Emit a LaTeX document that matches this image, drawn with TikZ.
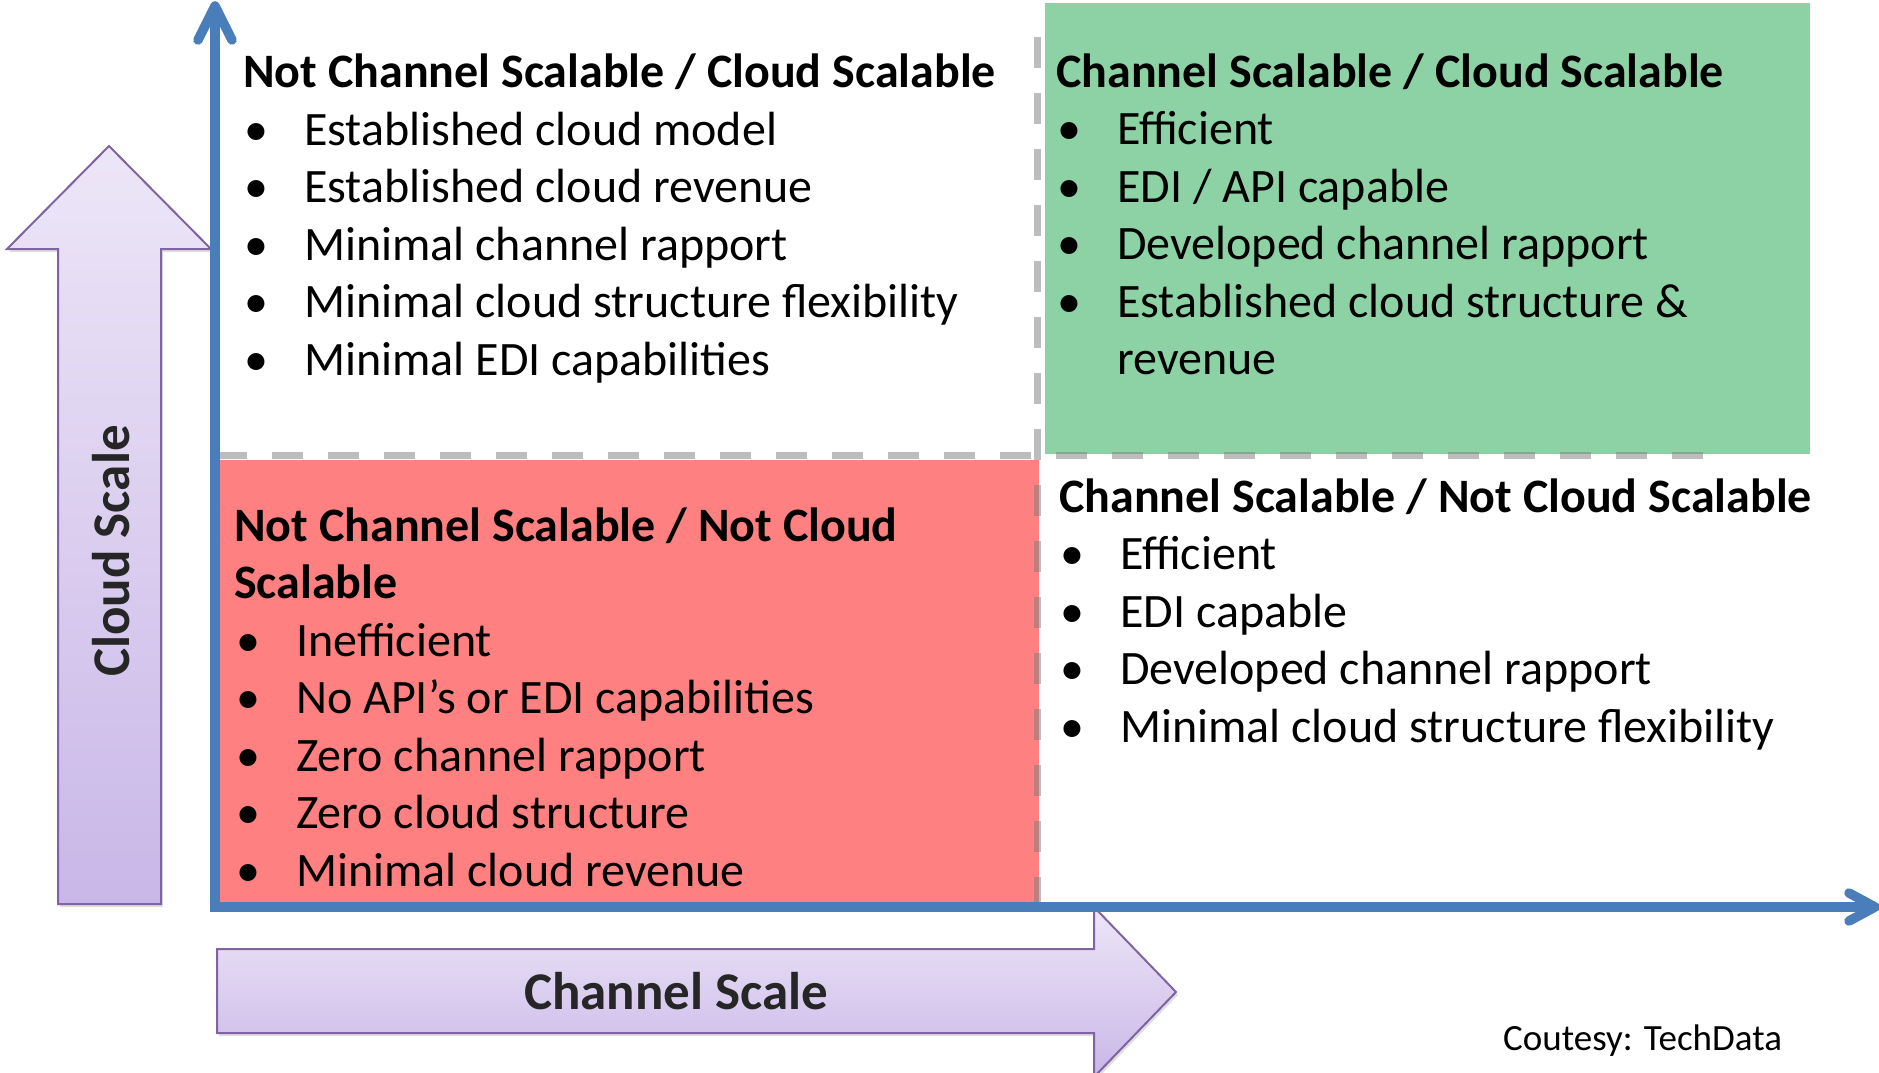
\documentclass[tikz,border=0pt]{standalone}
\usepackage{fontspec}
\setmainfont{Carlito}
\usetikzlibrary{shadows}
\definecolor{axblue}{RGB}{74,126,187}
\definecolor{qred}{RGB}{255,128,128}
\definecolor{qgreen}{RGB}{140,210,165}
\definecolor{ptop}{RGB}{237,230,247}
\definecolor{pbot}{RGB}{201,183,232}
\definecolor{pborder}{RGB}{128,100,162}
\definecolor{dashgray}{RGB}{125,125,125}
\definecolor{labtext}{RGB}{38,38,38}
\newcommand\bulletbox{\makebox[60pt][l]{•}}
\begin{document}
\begin{tikzpicture}[x=1pt,y=-1pt,
  head/.style={anchor=base west, inner sep=0pt, font=\fontsize{48}{57.5}\selectfont\bfseries},
  item/.style={anchor=base west, inner sep=0pt, font=\fontsize{48}{57.5}\selectfont},
  axisline/.style={draw=axblue, line width=9.5pt},
  bigarrow/.style={draw=pborder, line width=2pt, top color=ptop, bottom color=pbot,
    drop shadow={opacity=0.25, shadow xshift=2pt, shadow yshift=-3pt}},
  divider/.style={draw=dashgray, draw opacity=0.5, line width=7pt, dash pattern=on 31pt off 25pt},
  axlabel/.style={inner sep=0pt, text=labtext, font=\fontsize{52}{60}\selectfont\bfseries}]
\useasboundingbox (0,0) rectangle (1879,1073);
\fill[white] (0,0) rectangle (1879,1073);

% quadrant fills
\fill[qgreen] (1045,3) rectangle (1810,454);
\fill[qred] (219,460) rectangle (1039,905);

% dividers
\draw[divider] (216,455.5) -- (1703,455.5);
\draw[divider] (1037,37) -- (1037,905);

% big purple arrows
\path[bigarrow] (109,146) -- (211,249) -- (161,249) -- (161,904) -- (58,904) -- (58,249) -- (7,249) -- cycle;
\path[bigarrow] (217,949) -- (1094,949) -- (1094,907) -- (1176,992) -- (1094,1077) -- (1094,1033) -- (217,1033) -- cycle;
\node[axlabel, rotate=90, anchor=base] (cloudlab) at (129,551) {\fontsize{53}{60}\selectfont Cloud Scale};
\node[axlabel, anchor=base] (chanlab) at (676,1009) {\fontsize{53}{60}\selectfont Channel Scale};

% axes
\coordinate (O) at (215,907);
\coordinate (ytip) at (215,6);
\coordinate (xtip) at (1875,907);
\draw[axisline, line join=miter] (215,12) -- (O) -- (1868,907);
\draw[axisline, line cap=round, line join=round] (198,40) -- (ytip) -- (232,40);
\draw[axisline, line cap=round, line join=round] (1849,893) -- (xtip) -- (1849,921);

% top-left quadrant
\node[head] (tlh) at (243,88) {Not Channel Scalable / Cloud Scalable};
\node[item] (tl1) at (244,145) {\bulletbox Established cloud model};
\node[item] (tl2) at (244,202.5) {\bulletbox Established cloud revenue};
\node[item] (tl3) at (244,260) {\bulletbox Minimal channel rapport};
\node[item] (tl4) at (244,317.5) {\bulletbox Minimal cloud structure flexibility};
\node[item] (tl5) at (244,375) {\bulletbox Minimal EDI capabilities};

% top-right quadrant
\node[head] (trh) at (1056,87) {Channel Scalable / Cloud Scalable};
\node[item] (tr1) at (1057,144.5) {\bulletbox Efficient};
\node[item] (tr2) at (1057,202) {\bulletbox EDI / API capable};
\node[item] (tr3) at (1057,259.5) {\bulletbox Developed channel rapport};
\node[item] (tr4) at (1057,317) {\bulletbox Established cloud structure \&};
\node[item] (tr5) at (1117,374.5) {revenue};

% bottom-left quadrant
\node[head] (blh) at (234,541) {Not Channel Scalable / Not Cloud};
\node[head] (blh2) at (234,598.5) {Scalable};
\node[item] (bl1) at (236,656) {\bulletbox Inefficient};
\node[item] (bl2) at (236,713.5) {\bulletbox No API’s or EDI capabilities};
\node[item] (bl3) at (236,771) {\bulletbox Zero channel rapport};
\node[item] (bl4) at (236,828.5) {\bulletbox Zero cloud structure};
\node[item] (bl5) at (236,886) {\bulletbox Minimal cloud revenue};

% bottom-right quadrant
\node[head] (brh) at (1059,512) {Channel Scalable / Not Cloud Scalable};
\node[item] (br1) at (1060,569.5) {\bulletbox Efficient};
\node[item] (br2) at (1060,627) {\bulletbox EDI capable};
\node[item] (br3) at (1060,684.5) {\bulletbox Developed channel rapport};
\node[item] (br4) at (1060,742) {\bulletbox Minimal cloud structure flexibility};

\node[anchor=base west, inner sep=0pt, font=\fontsize{37}{44}\selectfont] (credit) at (1503,1050) {Coutesy: TechData};
\end{tikzpicture}
\end{document}
